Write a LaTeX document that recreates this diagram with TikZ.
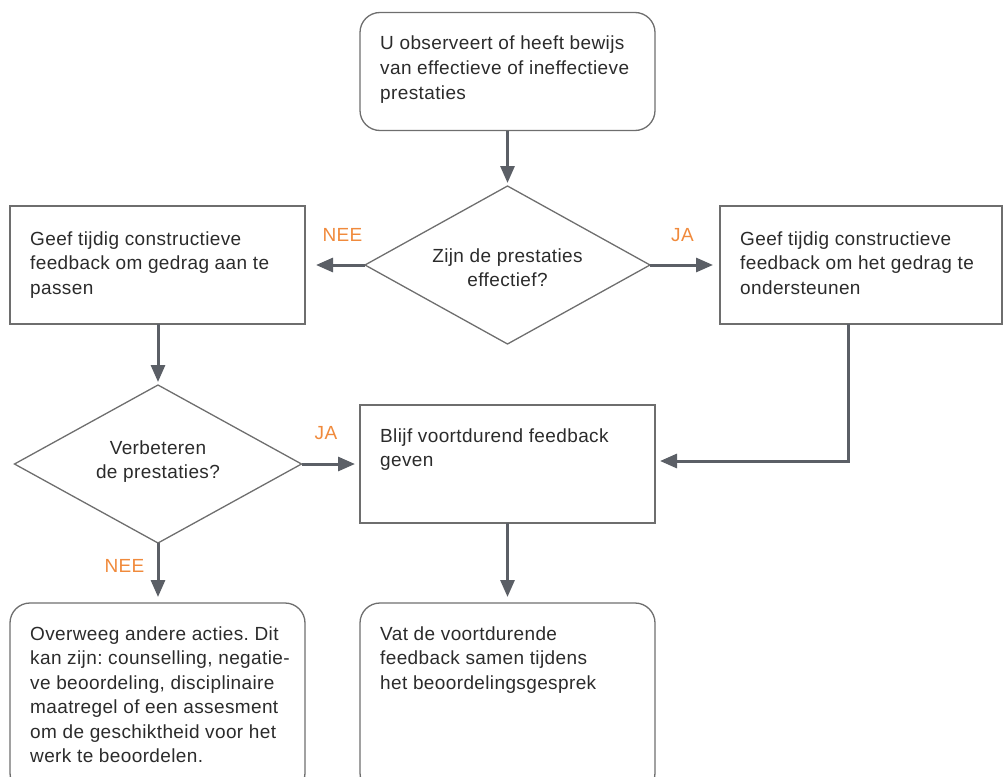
\documentclass[tikz,border=0pt]{standalone}
\usepackage{fontspec}
\setmainfont{Liberation Sans}[LetterSpace=2]
\usetikzlibrary{shapes.geometric,arrows.meta}
\definecolor{ink}{HTML}{2B2B2B}
\definecolor{linec}{HTML}{5B5F66}
\definecolor{boxc}{HTML}{6E6E6E}
\definecolor{orng}{HTML}{F08A3C}
\frenchspacing
\begin{document}
\begin{tikzpicture}[x=1pt,y=-1pt,
 box/.style={draw=boxc,line width=1.3pt,rectangle,minimum width=295pt,minimum height=118pt,inner sep=0pt,outer sep=0pt},
 rbox/.style={box,rounded corners=20pt},
 dia/.style={draw=boxc,line width=1.3pt,diamond,inner sep=0pt,outer sep=0pt},
 txt/.style={inner sep=0pt,anchor=base west,text=ink,font=\fontsize{19}{24.5}\selectfont},
 ctxt/.style={inner sep=0pt,anchor=base,text=ink,font=\fontsize{19}{24.5}\selectfont},
 lab/.style={inner sep=0pt,anchor=base,text=orng,font=\fontsize{19}{22}\selectfont},
 arr/.style={draw=linec,line width=3pt,-{Triangle[length=17pt,width=14pt]}},
]
\useasboundingbox (0,0) rectangle (1003,776);
\clip (0,0) rectangle (1003,776);

% boxes
\node[rbox] (start) at (507.5,71.5) {};
\node[dia,minimum width=285pt,minimum height=158pt] (d1) at (507.5,265) {};
\node[box] (lb) at (157.5,265) {};
\node[box,minimum width=282pt] (rb) at (861,265) {};
\node[dia,minimum width=287pt,minimum height=158pt] (d2) at (158,464) {};
\node[box] (mid) at (507.5,464) {};
\node[rbox,minimum height=190pt] (bl) at (157.5,698) {};
\node[rbox,minimum height=190pt] (bm) at (507.5,698) {};

% texts
\node[txt] (tstart) at (380,50) {\parbox[t]{290pt}{\raggedright U observeert of heeft bewijs\\van effectieve of ineffectieve\\prestaties}};
\node[ctxt] (td1) at (507.5,262) {\parbox[t]{240pt}{\centering Zijn de prestaties\\effectief?}};
\node[txt] (tlb) at (30,245) {\parbox[t]{290pt}{\raggedright Geef tijdig constructieve\\feedback om gedrag aan te\\passen}};
\node[txt] (trb) at (740,245) {\parbox[t]{290pt}{\raggedright Geef tijdig constructieve\\feedback om het gedrag te\\ondersteunen}};
\node[ctxt] (td2) at (158,454) {\parbox[t]{240pt}{\centering Verbeteren\\de prestaties?}};
\node[txt] (tmid) at (380,442) {\parbox[t]{290pt}{\raggedright Blijf voortdurend feedback\\geven}};
\node[txt] (tbl) at (30,640) {\parbox[t]{290pt}{\raggedright Overweeg andere acties. Dit\\kan zijn: counselling, negatie-\\ve beoordeling, disciplinaire\\maatregel of een assesment\\om de geschiktheid voor het\\werk te beoordelen.}};
\node[txt] (tbm) at (380,640) {\parbox[t]{290pt}{\raggedright Vat de voortdurende\\feedback samen tijdens\\het beoordelingsgesprek}};

% labels
\node[lab] (nee1) at (342.5,241) {NEE};
\node[lab] (ja1) at (682.5,241) {JA};
\node[lab] (ja2) at (326,439) {JA};
\node[lab] (nee2) at (124.5,572) {NEE};

% connectors
\draw[arr,shorten >=3pt] (start.south) -- (d1.north);
\draw[arr,shorten >=11pt] (d1.west) -- (lb.east);
\draw[arr,shorten >=7pt] (d1.east) -- (rb.west);
\draw[arr,shorten >=3pt] (d2.north |- lb.south) -- (d2.north);
\draw[arr,shorten >=5pt] (d2.east) -- (mid.west);
\draw[arr,shorten >=6pt] (d2.south) -- (d2.south |- bl.north);
\draw[arr,shorten >=6pt] (mid.south) -- (bm.north);
\draw[arr,shorten >=5pt] ([xshift=-13pt]rb.south) |- ([yshift=3pt]mid.east);
\end{tikzpicture}
\end{document}
